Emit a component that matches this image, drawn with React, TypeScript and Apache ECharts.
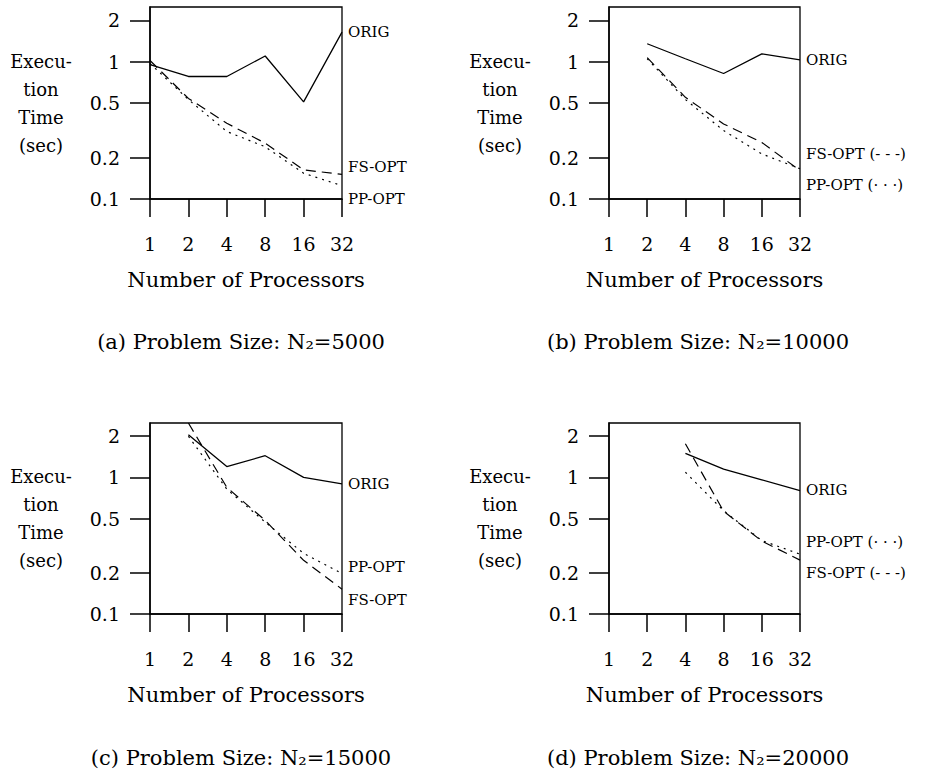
import React, { useEffect, useRef } from "react";
import * as echarts from "echarts";

const processors = [1, 2, 4, 8, 16, 32];
const yTicks = [0.1, 0.2, 0.5, 1, 2];
const seriesNames = ["ORIG", "FS-OPT", "PP-OPT"];

// (a) N2=5000
const origA = [0.95, 0.78, 0.78, 1.1, 0.51, 1.64];
const fsA = [1.02, 0.54, 0.356, 0.255, 0.163, 0.151];
const ppA = [0.97, 0.53, 0.31, 0.24, 0.154, 0.125];
// (b) N2=10000
const origB = [null, 1.35, 1.05, 0.82, 1.14, 1.03];
const fsB = [null, 1.07, 0.55, 0.352, 0.258, 0.161];
const ppB = [null, 1.05, 0.53, 0.315, 0.213, 0.166];
// (c) N2=15000
const origC = [null, 2.05, 1.2, 1.44, 1.0, 0.895];
const fsC = [null, 2.5, 0.845, 0.484, 0.247, 0.152];
const ppC = [null, 2.0, 0.82, 0.47, 0.278, 0.198];
// (d) N2=20000
const origD = [null, null, 1.5, 1.15, 0.96, 0.8];
const fsD = [null, null, 1.76, 0.565, 0.342, 0.248];
const ppD = [null, null, 1.09, 0.57, 0.345, 0.274];

const captions = [
  "(a) Problem Size: N₂=5000",
  "(b) Problem Size: N₂=10000",
  "(c) Problem Size: N₂=15000",
  "(d) Problem Size: N₂=20000",
];
const endLabelsA = ["ORIG", "FS-OPT", "PP-OPT"];
const endLabelsB = ["ORIG", "FS-OPT (- - -)", "PP-OPT (· · ·)"];

const FONT = "DejaVu Serif";

export default function App() {
  const ref = useRef<HTMLDivElement>(null);
  useEffect(() => {
    if (!ref.current) return;
    const chart = echarts.init(ref.current, undefined, { renderer: "svg" });

    const panels = [
      { left: 150, top: 7, width: 192, height: 192, data: [origA, fsA, ppA], labels: endLabelsA, offs: [0, -7, 13] },
      { left: 609, top: 7, width: 191, height: 192, data: [origB, fsB, ppB], labels: endLabelsB, offs: [0, -17, 16] },
      { left: 150, top: 423, width: 192, height: 191, data: [origC, fsC, ppC], labels: endLabelsA, offs: [0, 11, -6.5] },
      { left: 609, top: 423, width: 191, height: 191, data: [origD, fsD, ppD], labels: endLabelsB, offs: [-0.5, 13, -12] },
    ];

    const lineTypes: any[] = ["solid", [10, 6], [2, 5]];

    const grid = panels.map((p) => ({
      left: p.left,
      top: p.top,
      width: p.width,
      height: p.height,
      show: true,
      borderColor: "#000",
      borderWidth: 1.3,
      backgroundColor: "transparent",
    }));

    const tickText = { color: "#000", fontFamily: FONT, fontSize: 19 };

    const xAxis = panels.map((_, i) => ({
      type: "log",
      logBase: 2,
      min: 1,
      max: 32,
      gridIndex: i,
      name: "Number of Processors",
      nameLocation: "middle",
      nameGap: 70,
      nameTextStyle: { color: "#000", fontFamily: FONT, fontSize: 21 },
      axisLine: { show: true, lineStyle: { color: "#000", width: 1.5 } },
      axisTick: { show: true, length: 18, lineStyle: { color: "#000", width: 1.5 } },
      axisLabel: { ...tickText, margin: 35 },
      splitLine: { show: false },
      minorTick: { show: false },
    }));

    const yAxis = panels.map((_, i) => ({
      type: "log",
      logBase: 10,
      min: 0.1,
      max: 2.5,
      gridIndex: i,
      name: "Execu-\ntion\nTime\n(sec)",
      nameLocation: "middle",
      nameRotate: 0,
      nameGap: 109,
      nameTextStyle: {
        color: "#000",
        fontFamily: FONT,
        fontSize: 18,
        align: "center",
        verticalAlign: "middle",
        lineHeight: 28,
      },
      axisLine: { show: true, lineStyle: { color: "#000", width: 1.5 } },
      axisTick: { show: true, length: 20, customValues: yTicks, lineStyle: { color: "#000", width: 1.5 } },
      axisLabel: { ...tickText, margin: 30, customValues: yTicks },
      splitLine: { show: false },
    }));

    const series: any[] = [];
    panels.forEach((p, i) => {
      p.data.forEach((vals, k) => {
        series.push({
          type: "line",
          name: seriesNames[k],
          xAxisIndex: i,
          yAxisIndex: i,
          data: processors
            .map((x, j) => (vals[j] == null ? null : [x, vals[j]]))
            .filter((d) => d !== null),
          showSymbol: false,
          symbol: "none",
          clip: true,
          lineStyle: { color: "#000", width: k === 0 ? 1.3 : 1.2, type: lineTypes[k] },
          endLabel: {
            show: true,
            formatter: p.labels[k],
            color: "#000",
            fontFamily: FONT,
            fontSize: 15,
            distance: 6,
            offset: [0, p.offs[k]],
          },
        });
      });
    });

    const captionPos = [
      [241, 342],
      [698, 342],
      [241, 758],
      [698, 758],
    ];
    const graphic = captions.map((c, i) => ({
      type: "text",
      x: captionPos[i][0],
      y: captionPos[i][1],
      style: {
        text: c,
        fill: "#000",
        font: `21px "${FONT}"`,
        textAlign: "center",
        textVerticalAlign: "middle",
      },
    }));

    chart.setOption({
      animation: false,
      backgroundColor: "#fff",
      grid,
      xAxis,
      yAxis,
      series,
      graphic,
    } as any);

    return () => chart.dispose();
  }, []);

  return (
    <div
      ref={ref}
      style={{ position: "fixed", left: 0, top: 0, width: 925, height: 775 }}
    />
  );
}
